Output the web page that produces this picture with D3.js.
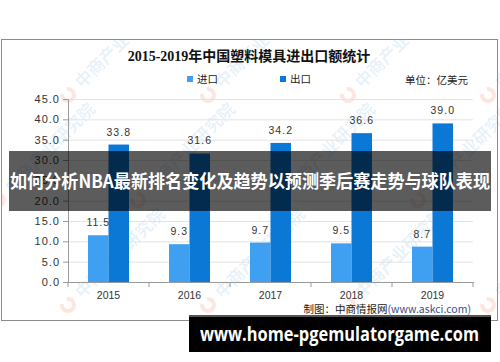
<!DOCTYPE html>
<html>
<head>
<meta charset="utf-8">
<script src="https://cdn.jsdelivr.net/npm/d3@7"></script>
<style>
  body { margin: 0; background: #fff; }
  svg { display: block; }
  .tick text { font-family: "Liberation Sans", "DejaVu Sans", sans-serif; }
</style>
</head>
<body>
<div id="chart"></div>
<script>
// data
var years = ["2015", "2016", "2017", "2018", "2019"];
var importVals = [11.5, 9.3, 9.7, 9.5, 8.7];
var exportVals = [33.8, 31.6, 34.2, 36.6, 39.0];
var seriesNames = ["进口", "出口"];
var yTicks = [0, 5, 10, 15, 20, 25, 30, 35, 40, 45];

var W = 500, H = 362;
var colors = ["#3fa0f2", "#0b78d6"];
var cjk = '"Noto Sans CJK SC", "Noto Sans", sans-serif';

var svg = d3.select("#chart").append("svg")
    .attr("width", W)
    .attr("height", H);

svg.append("defs").append("clipPath")
    .attr("id", "frameClip")
    .append("rect")
    .attr("x", 1).attr("y", 40)
    .attr("width", 499).attr("height", 281);

// frame of the chart
svg.append("rect")
    .attr("x", 1.5).attr("y", 39.5)
    .attr("width", 496).attr("height", 281)
    .attr("fill", "#fff")
    .attr("stroke", "#8c8c8c")
    .attr("stroke-width", 1);

// watermarks (faint, rotated), kept inside the frame
var wm = svg.append("g").attr("clip-path", "url(#frameClip)");
for (var r = 0; r < 3; r++) {
    for (var c = 0; c < 5; c++) {
        var wx = 68 + c * 140 - (r % 2) * 70;
        var wy = 95 + r * 105;
        var g = wm.append("g")
            .attr("transform", "translate(" + wx + "," + wy + ") rotate(-45)");
        g.append("path")
            .attr("d", d3.arc()({innerRadius: 4, outerRadius: 8, startAngle: 0.6, endAngle: Math.PI * 2 - 0.6}))
            .attr("fill", "rgba(240,130,100,0.2)");
        g.append("text")
            .attr("x", 14).attr("y", 6)
            .attr("font-family", cjk)
            .attr("font-weight", "bold")
            .attr("font-size", 17)
            .attr("fill", "rgba(70,150,215,0.13)")
            .text("中商产业研究院");
    }
}

// scales
var x = d3.scaleBand().domain(years).range([68, 473]).padding(0);
var sub = d3.scaleBand().domain(seriesNames).range([0, 41]);
var y = d3.scaleLinear().domain([0, 45]).range([282, 99]);
var xOff = (x.bandwidth() - 41) / 2;

// grid
svg.append("g")
    .attr("transform", "translate(68,0)")
    .call(d3.axisLeft(y).tickValues(yTicks).tickSize(-405).tickFormat(""))
    .call(function(g) {
        g.select(".domain").remove();
        g.selectAll("line").attr("stroke", "#e3e3e3");
    });

// bars
var table = years.map(function(d, i) {
    return {year: d, values: [importVals[i], exportVals[i]]};
});

var groups = svg.selectAll(".yr")
    .data(table)
    .enter()
    .append("g")
    .attr("class", "yr")
    .attr("transform", function(d) { return "translate(" + (x(d.year) + xOff) + ",0)"; });

groups.selectAll("rect")
    .data(function(d) { return d.values.map(function(v, k) { return {name: seriesNames[k], v: v, k: k}; }); })
    .enter()
    .append("rect")
    .attr("x", function(d) { return sub(d.name); })
    .attr("width", sub.bandwidth())
    .attr("y", function(d) { return y(d.v); })
    .attr("height", function(d) { return y(0) - y(d.v); })
    .attr("fill", function(d) { return colors[d.k]; });

groups.selectAll(".lbl")
    .data(function(d) { return d.values.map(function(v, k) { return {name: seriesNames[k], v: v}; }); })
    .enter()
    .append("text")
    .attr("class", "lbl")
    .attr("x", function(d) { return sub(d.name) + sub.bandwidth() / 2; })
    .attr("y", function(d) { return y(d.v) - 9; })
    .attr("text-anchor", "middle")
    .attr("font-family", '"Liberation Sans", sans-serif')
    .attr("font-size", 10.5)
    .attr("letter-spacing", 1)
    .attr("fill", "#333")
    .text(function(d) { return d3.format(".1f")(d.v); });

// y axis
svg.append("g")
    .attr("transform", "translate(68,0)")
    .call(d3.axisLeft(y).tickValues(yTicks).tickSize(5).tickPadding(3).tickFormat(d3.format(".1f")))
    .call(function(g) {
        g.select(".domain").attr("stroke", "#9a9a9a");
        g.selectAll("line").attr("stroke", "#9a9a9a");
        g.selectAll("text")
            .attr("font-size", 11)
            .attr("letter-spacing", 1)
            .attr("fill", "#333");
    });

// x axis
var xa = svg.append("g")
    .attr("transform", "translate(0,282)")
    .call(d3.axisBottom(x).tickSize(0).tickPadding(10))
    .call(function(g) {
        g.select(".domain").attr("stroke", "#9a9a9a");
        g.selectAll("text").attr("font-size", 10.5).attr("fill", "#333");
    });
xa.selectAll(".bnd")
    .data(years.concat(["end"]))
    .enter()
    .append("line")
    .attr("x1", function(d, i) { return i < years.length ? x(d) : x(years[years.length - 1]) + x.bandwidth(); })
    .attr("x2", function(d, i) { return i < years.length ? x(d) : x(years[years.length - 1]) + x.bandwidth(); })
    .attr("y1", 0).attr("y2", 5)
    .attr("stroke", "#9a9a9a");

// title
svg.append("text")
    .attr("x", 249).attr("y", 61)
    .attr("text-anchor", "middle")
    .attr("font-family", '"Liberation Serif", "Noto Sans CJK SC", serif')
    .attr("font-weight", "bold")
    .attr("font-size", 14)
    .attr("fill", "#111")
    .text("2015-2019年中国塑料模具进出口额统计");

// legend
var legX = [187, 280];
seriesNames.forEach(function(n, i) {
    svg.append("rect")
        .attr("x", legX[i]).attr("y", 76)
        .attr("width", 6).attr("height", 6)
        .attr("fill", colors[i]);
    svg.append("text")
        .attr("x", legX[i] + 10).attr("y", 83)
        .attr("font-family", cjk)
        .attr("font-size", 10.5)
        .attr("fill", "#222")
        .text(n);
});

svg.append("text")
    .attr("x", 468).attr("y", 84)
    .attr("text-anchor", "end")
    .attr("font-family", cjk)
    .attr("font-size", 10.5)
    .attr("fill", "#222")
    .text("单位：亿美元");

// source
var src = svg.append("text")
    .attr("x", 471).attr("y", 313)
    .attr("text-anchor", "end")
    .attr("font-family", cjk)
    .attr("font-size", 10.5)
    .attr("fill", "#222");
src.append("tspan").text("制图：中商情报网");
src.append("tspan").attr("fill", "#3b4f86").text("(www.askci.com)");

// dark overlay banner
svg.append("rect")
    .attr("x", 9).attr("y", 151)
    .attr("width", 482).attr("height", 60)
    .attr("fill", "rgba(0,0,0,0.64)");
svg.append("text")
    .attr("x", 10).attr("y", 188)
    .attr("font-family", cjk)
    .attr("font-weight", "bold")
    .attr("font-size", 18)
    .attr("fill", "#fff")
    .attr("textLength", 480)
    .attr("lengthAdjust", "spacingAndGlyphs")
    .text("如何分析NBA最新排名变化及趋势以预测季后赛走势与球队表现");

// bottom url banner
svg.append("rect")
    .attr("x", 189).attr("y", 315)
    .attr("width", 302).attr("height", 37)
    .attr("fill", "#000");
svg.append("rect")
    .attr("x", 189).attr("y", 315)
    .attr("width", 302).attr("height", 2)
    .attr("fill", "#555");
svg.append("text")
    .attr("x", 200).attr("y", 341)
    .attr("font-family", '"Open Sans", "Noto Sans", sans-serif')
    .attr("font-weight", "bold")
    .attr("font-size", 19)
    .attr("fill", "#fff")
    .attr("textLength", 279)
    .attr("lengthAdjust", "spacingAndGlyphs")
    .text("www.home-pgemulatorgame.com");
</script>
</body>
</html>
